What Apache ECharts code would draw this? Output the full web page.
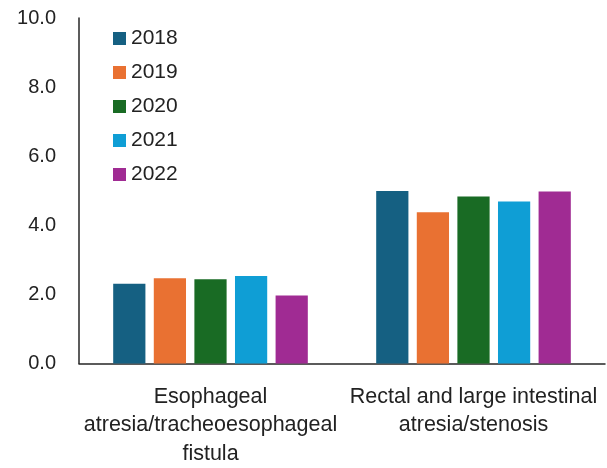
<!DOCTYPE html>
<html>
<head>
<meta charset="utf-8">
<script src="https://cdn.jsdelivr.net/npm/echarts@6/dist/echarts.min.js"></script>
<style>
  html, body { margin: 0; padding: 0; background: #fff; }
  #chart { width: 607px; height: 468px; }
</style>
</head>
<body>
<div id="chart"></div>
<script>
var categories = ['Esophageal\natresia/tracheoesophageal\nfistula', 'Rectal and large intestinal\natresia/stenosis'];
var years = ['2018', '2019', '2020', '2021', '2022'];
var colors = ['#156082', '#E97132', '#196B24', '#0F9ED5', '#A02B93'];
var values2018 = [2.31, 4.99];
var values2019 = [2.47, 4.38];
var values2020 = [2.44, 4.83];
var values2021 = [2.53, 4.69];
var values2022 = [1.97, 4.98];
var yTicks = [0, 2, 4, 6, 8, 10];

var seriesValues = [values2018, values2019, values2020, values2021, values2022];
var font = 'Liberation Sans, Arial, sans-serif';

var myChart = echarts.init(document.getElementById('chart'));

var option = {
    animation: false,
    grid: {
        left: 79,
        right: 2,
        top: 18,
        bottom: 103,
        containLabel: false
    },
    legend: {
        orient: 'vertical',
        left: 108,
        top: 23,
        itemWidth: 13,
        itemHeight: 13,
        itemGap: 13,
        icon: 'rect',
        data: years,
        textStyle: {
            fontFamily: font,
            fontSize: 21,
            color: '#222',
            lineHeight: 21
        }
    },
    xAxis: {
        type: 'category',
        data: categories,
        axisLine: { lineStyle: { color: '#262626', width: 1.5 } },
        axisTick: { show: false },
        axisLabel: {
            margin: 19,
            interval: 0,
            fontFamily: font,
            fontSize: 21.5,
            lineHeight: 28.5,
            color: '#222'
        }
    },
    yAxis: {
        type: 'value',
        min: yTicks[0],
        max: yTicks[yTicks.length - 1],
        interval: 2,
        splitLine: { show: false },
        axisLine: { show: true, lineStyle: { color: '#262626', width: 1.5 } },
        axisTick: { show: false },
        axisLabel: {
            margin: 23,
            fontFamily: font,
            fontSize: 20,
            color: '#222',
            formatter: function (v) {
                return v.toFixed(1);
            }
        }
    },
    series: years.map(function (year, i) {
        return {
            name: year,
            type: 'bar',
            data: seriesValues[i],
            barCategoryGap: '26%',
            barGap: '26%',
            itemStyle: { color: colors[i] }
        };
    })
};

myChart.setOption(option);
</script>
</body>
</html>
